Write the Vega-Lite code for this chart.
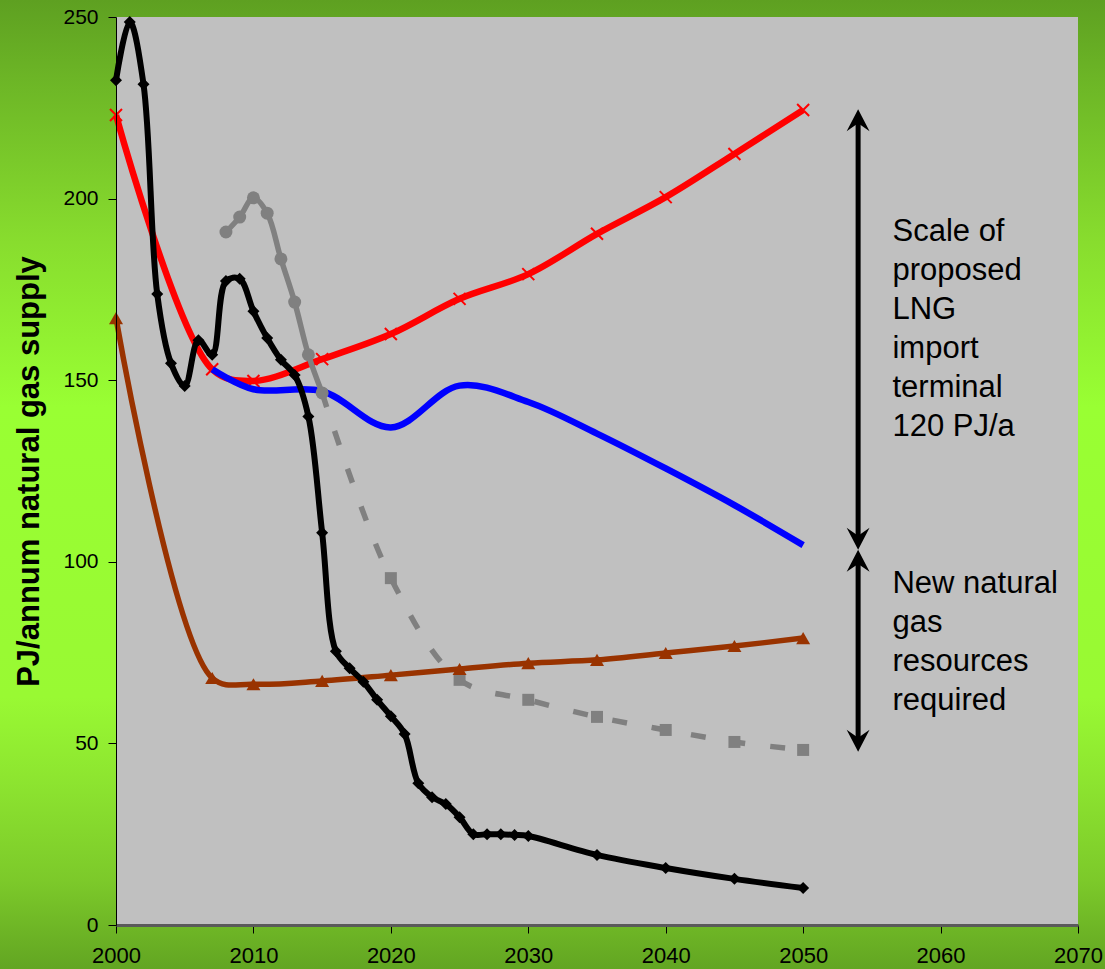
{
  "$schema": "https://vega.github.io/schema/vega-lite/v6.json",
  "width": 1105,
  "height": 969,
  "autosize": {"type": "none"},
  "padding": 0,
  "background": "#88d82d",
  "config": {
    "view": {"stroke": null, "fill": {"gradient": "linear", "x1": 0, "y1": 0, "x2": 0, "y2": 1, "stops": [
      {"offset": 0, "color": "#5ea021"},
      {"offset": 0.08, "color": "#6cb526"},
      {"offset": 0.25, "color": "#88dd2e"},
      {"offset": 0.42, "color": "#99ff33"},
      {"offset": 0.72, "color": "#99f933"},
      {"offset": 0.8, "color": "#8ee630"},
      {"offset": 0.91, "color": "#7cc92a"},
      {"offset": 1, "color": "#62a522"}
    ]}},
    "font": "Liberation Sans"
  },
  "datasets": {
    "plot": [{"x0": 2000, "x1": 2070, "y0": 0, "y1": 250}],
    "grid": [{"v": 50}, {"v": 100}, {"v": 150}, {"v": 200}],
    "series": [
      {"s": "existing", "year": 2000, "v": 232.6}, {"s": "existing", "year": 2001, "v": 248.6}, {"s": "existing", "year": 2002, "v": 231.5},
      {"s": "existing", "year": 2003, "v": 173.7}, {"s": "existing", "year": 2004, "v": 154.7}, {"s": "existing", "year": 2005, "v": 148.4},
      {"s": "existing", "year": 2006, "v": 161}, {"s": "existing", "year": 2007, "v": 157}, {"s": "existing", "year": 2008, "v": 177.3},
      {"s": "existing", "year": 2009, "v": 177.9}, {"s": "existing", "year": 2010, "v": 169}, {"s": "existing", "year": 2011, "v": 161.6},
      {"s": "existing", "year": 2012, "v": 155.6}, {"s": "existing", "year": 2013, "v": 151.4}, {"s": "existing", "year": 2014, "v": 140},
      {"s": "existing", "year": 2015, "v": 108}, {"s": "existing", "year": 2016, "v": 75.4}, {"s": "existing", "year": 2017, "v": 70.7},
      {"s": "existing", "year": 2018, "v": 67}, {"s": "existing", "year": 2019, "v": 62}, {"s": "existing", "year": 2020, "v": 57.5},
      {"s": "existing", "year": 2021, "v": 52.6}, {"s": "existing", "year": 2022, "v": 39}, {"s": "existing", "year": 2023, "v": 35.2},
      {"s": "existing", "year": 2024, "v": 33.3}, {"s": "existing", "year": 2025, "v": 29.7}, {"s": "existing", "year": 2026, "v": 25},
      {"s": "existing", "year": 2027, "v": 25}, {"s": "existing", "year": 2028, "v": 25}, {"s": "existing", "year": 2029, "v": 24.8},
      {"s": "existing", "year": 2030, "v": 24.5}, {"s": "existing", "year": 2035, "v": 19.3}, {"s": "existing", "year": 2040, "v": 15.7},
      {"s": "existing", "year": 2045, "v": 12.7}, {"s": "existing", "year": 2050, "v": 10.2},
      {"s": "demand", "year": 2000, "v": 223}, {"s": "demand", "year": 2007, "v": 153}, {"s": "demand", "year": 2010, "v": 149.8},
      {"s": "demand", "year": 2015, "v": 155.8}, {"s": "demand", "year": 2020, "v": 162.7}, {"s": "demand", "year": 2025, "v": 172.4},
      {"s": "demand", "year": 2030, "v": 179.2}, {"s": "demand", "year": 2035, "v": 190.3}, {"s": "demand", "year": 2040, "v": 200.4},
      {"s": "demand", "year": 2045, "v": 212.3}, {"s": "demand", "year": 2050, "v": 224.4},
      {"s": "efficient", "year": 2007, "v": 153}, {"s": "efficient", "year": 2010, "v": 147.5}, {"s": "efficient", "year": 2015, "v": 147},
      {"s": "efficient", "year": 2020, "v": 137}, {"s": "efficient", "year": 2025, "v": 148.5}, {"s": "efficient", "year": 2030, "v": 144},
      {"s": "efficient", "year": 2035, "v": 135.3}, {"s": "efficient", "year": 2040, "v": 125.7}, {"s": "efficient", "year": 2045, "v": 115.6},
      {"s": "efficient", "year": 2050, "v": 104.6},
      {"s": "minimum", "year": 2000, "v": 167.1}, {"s": "minimum", "year": 2007, "v": 68}, {"s": "minimum", "year": 2010, "v": 66.3},
      {"s": "minimum", "year": 2015, "v": 67.2}, {"s": "minimum", "year": 2020, "v": 68.8}, {"s": "minimum", "year": 2025, "v": 70.5},
      {"s": "minimum", "year": 2030, "v": 72.1}, {"s": "minimum", "year": 2035, "v": 73}, {"s": "minimum", "year": 2040, "v": 74.9},
      {"s": "minimum", "year": 2045, "v": 76.8}, {"s": "minimum", "year": 2050, "v": 79},
      {"s": "past", "year": 2008, "v": 190.8}, {"s": "past", "year": 2009, "v": 194.9}, {"s": "past", "year": 2010, "v": 200.2},
      {"s": "past", "year": 2011, "v": 196}, {"s": "past", "year": 2012, "v": 183.4}, {"s": "past", "year": 2013, "v": 171.5},
      {"s": "past", "year": 2014, "v": 157}, {"s": "past", "year": 2015, "v": 146.5},
      {"s": "future", "year": 2015, "v": 146.5}, {"s": "future", "year": 2020, "v": 95.5}, {"s": "future", "year": 2025, "v": 67.5},
      {"s": "future", "year": 2030, "v": 62}, {"s": "future", "year": 2035, "v": 57.3}, {"s": "future", "year": 2040, "v": 53.7},
      {"s": "future", "year": 2045, "v": 50.4}, {"s": "future", "year": 2050, "v": 48.2}
    ],
    "shafts": [
      {"year": 2054, "v": 106.3, "v2": 222},
      {"year": 2054, "v": 50.7, "v2": 100.3}
    ],
    "heads": [
      {"year": 2054, "v": 224.6, "dir": "up"},
      {"year": 2054, "v": 103.3, "dir": "down"},
      {"year": 2054, "v": 103.3, "dir": "up"},
      {"year": 2054, "v": 47.7, "dir": "down"}
    ],
    "notes": [
      {"year": 2056.5, "v": 188.2, "label": "Scale of\nproposed\nLNG\nimport\nterminal\n120 PJ/a"},
      {"year": 2056.5, "v": 91.5, "label": "New natural\ngas\nresources\nrequired"}
    ]
  },
  "encoding": {
    "x": {"field": "year", "type": "quantitative",
      "scale": {"domain": [2000, 2070], "range": [116, 1078], "nice": false, "zero": false},
      "axis": {"title": null, "offset": -44, "values": [2000, 2010, 2020, 2030, 2040, 2050, 2060, 2070], "format": "d", "grid": false,
        "domainColor": "#5a5a5a", "domainWidth": 3, "tickColor": "#000000", "tickSize": 8, "tickWidth": 1,
        "labelFontSize": 22, "labelColor": "#000000", "labelPadding": 12, "labelFlush": false, "labelOverlap": false, "zindex": 1}},
    "y": {"field": "v", "type": "quantitative",
      "scale": {"domain": [0, 250], "range": [925, 17], "nice": false},
      "axis": {"title": "PJ/annum natural gas supply", "offset": -116, "values": [0, 50, 100, 150, 200, 250],
        "grid": false, "domainColor": "#000000", "domainWidth": 1, "tickColor": "#000000", "tickSize": 8,
        "labelFontSize": 21, "labelColor": "#000000", "labelPadding": 10, "zindex": 1,
        "titleFont": "Liberation Sans", "titleFontSize": 31, "titleFontWeight": "bold", "titleColor": "#000000", "titlePadding": 17}}
  },
  "layer": [
    {"data": {"name": "plot"},
     "mark": {"type": "rect", "color": "#c0c0c0", "opacity": 1},
     "encoding": {"x": {"field": "x0", "type": "quantitative"}, "x2": {"field": "x1"},
                  "y": {"field": "y0", "type": "quantitative"}, "y2": {"field": "y1"}}},
    {"data": {"name": "grid"},
     "mark": {"type": "rule", "color": "#000000", "strokeWidth": 1},
     "encoding": {"x": {"datum": 2000, "type": "quantitative"}, "x2": {"datum": 2070}}},
    {"data": {"name": "series"}, "transform": [{"filter": "datum.s == 'demand'"}],
     "mark": {"type": "line", "color": "#ff0000", "strokeWidth": 6.5, "interpolate": "catmull-rom"}},
    {"data": {"name": "series"}, "transform": [{"filter": "datum.s == 'demand'"}],
     "mark": {"type": "point", "shape": "M-1,-1L1,1M-1,1L1,-1", "filled": false, "color": "#ff0000", "strokeWidth": 2, "size": 144, "opacity": 1}},
    {"data": {"name": "series"}, "transform": [{"filter": "datum.s == 'efficient'"}],
     "mark": {"type": "line", "color": "#0000ff", "strokeWidth": 6.5, "interpolate": "catmull-rom"}},
    {"data": {"name": "series"}, "transform": [{"filter": "datum.s == 'future'"}],
     "mark": {"type": "line", "color": "#808080", "strokeWidth": 5.5, "strokeDash": [15, 25], "interpolate": "catmull-rom"}},
    {"data": {"name": "series"}, "transform": [{"filter": "datum.s == 'future' && datum.year > 2015"}],
     "mark": {"type": "point", "shape": "square", "filled": true, "color": "#808080", "size": 144, "opacity": 1}},
    {"data": {"name": "series"}, "transform": [{"filter": "datum.s == 'minimum'"}],
     "mark": {"type": "line", "color": "#993300", "strokeWidth": 5.5, "interpolate": "catmull-rom"}},
    {"data": {"name": "series"}, "transform": [{"filter": "datum.s == 'minimum'"}],
     "mark": {"type": "point", "shape": "triangle-up", "filled": true, "color": "#993300", "size": 196, "opacity": 1}},
    {"data": {"name": "series"}, "transform": [{"filter": "datum.s == 'past'"}],
     "mark": {"type": "line", "color": "#808080", "strokeWidth": 5.5, "interpolate": "catmull-rom"}},
    {"data": {"name": "series"}, "transform": [{"filter": "datum.s == 'past'"}],
     "mark": {"type": "point", "shape": "circle", "filled": true, "color": "#808080", "size": 169, "opacity": 1}},
    {"data": {"name": "series"}, "transform": [{"filter": "datum.s == 'existing'"}],
     "mark": {"type": "line", "color": "#000000", "strokeWidth": 6, "interpolate": "catmull-rom"}},
    {"data": {"name": "series"}, "transform": [{"filter": "datum.s == 'existing'"}],
     "mark": {"type": "point", "shape": "diamond", "filled": true, "color": "#000000", "size": 144, "opacity": 1}},
    {"data": {"name": "shafts"},
     "mark": {"type": "rule", "color": "#000000", "strokeWidth": 5},
     "encoding": {"y2": {"field": "v2"}}},
    {"data": {"name": "heads"},
     "mark": {"type": "point", "filled": true, "color": "#000000", "size": 1936, "opacity": 1},
     "encoding": {"shape": {"field": "dir", "type": "nominal", "legend": null,
       "scale": {"domain": ["up", "down"], "range": ["M0,0L0.52,1L0,0.64L-0.52,1Z", "M0,0L0.52,-1L0,-0.64L-0.52,-1Z"]}}}},
    {"data": {"name": "notes"},
     "mark": {"type": "text", "align": "left", "baseline": "alphabetic", "fontSize": 31, "lineHeight": 39, "lineBreak": "\n", "color": "#000000", "font": "Liberation Sans"},
     "encoding": {"text": {"field": "label", "type": "nominal"}}}
  ]
}
